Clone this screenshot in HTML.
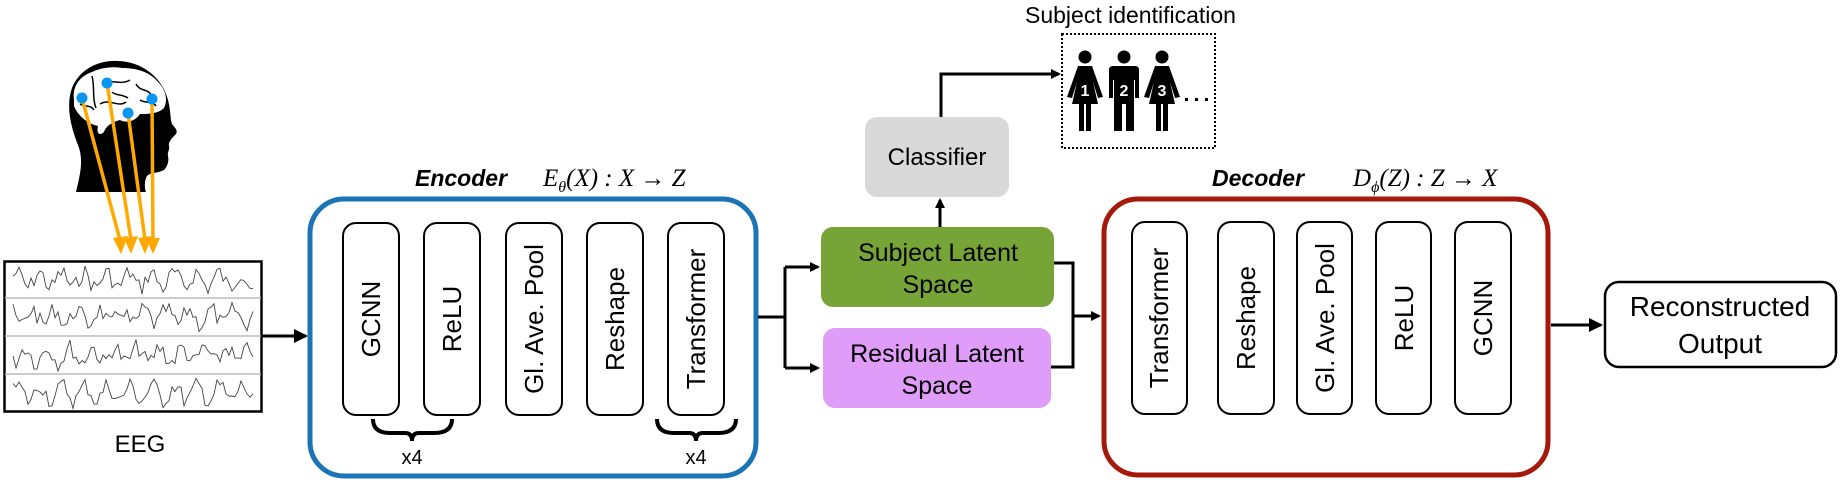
<!DOCTYPE html>
<html><head><meta charset="utf-8"><style>
html,body{margin:0;padding:0;background:#fff;}
svg{display:block;}
text{font-family:"Liberation Sans",Arial,sans-serif;fill:#000;}
.v{font-size:26px;}
.x4{font-size:20px;}
.it{font-family:"Liberation Serif",serif;font-style:italic;font-size:25px;}
</style></head><body>
<svg width="1843" height="494" viewBox="0 0 1843 494" xmlns="http://www.w3.org/2000/svg">
<defs>
<marker id="ah" markerWidth="10" markerHeight="10" refX="8" refY="5" orient="auto" markerUnits="userSpaceOnUse"><path d="M0,0 L10,5 L0,10 z" fill="#000"/></marker>
<marker id="ah2" markerWidth="14" markerHeight="14" refX="12" refY="7" orient="auto" markerUnits="userSpaceOnUse"><path d="M0,0 L14,7 L0,14 z" fill="#000"/></marker>
</defs>

<!-- Head -->
<path d="M76,192 C80,175 84,160 78,145 C70,125 66,105 72,88 C80,68 100,60 118,61 C145,62 163,80 168,100 C171,112 170,118 172,124 C175,128 178,130 176,134 C172,138 168,142 169,146 C170,150 167,152 168,156 C169,160 168,166 164,170 C156,174 148,172 146,178 C144,184 145,190 146,192 Z" fill="#000"/>
<path d="M74,100 C72,86 80,76 92,72 C100,68 112,66 122,68 C136,68 150,72 158,82 C166,90 168,100 164,108 C158,114 148,114 140,114 C136,120 128,124 120,120 C112,122 106,126 104,132 C100,136 96,134 98,126 C88,124 78,116 74,106 Z" fill="#fff"/>
<path d="M92,76 C95,88 92,98 96,108 M102,84 C112,78 120,86 130,80 M136,84 C140,92 148,88 152,96 M100,104 C110,98 118,108 126,102 M112,92 C116,96 122,94 128,98 M80,104 C86,108 90,104 94,110 M140,100 C146,104 152,100 156,106" stroke="#000" stroke-width="1.5" fill="none"/>
<g stroke="#ffa800" stroke-width="3.5">
<line x1="82" y1="98" x2="120" y2="240"/>
<line x1="107" y1="83" x2="131" y2="240"/>
<line x1="128" y1="113" x2="145" y2="240"/>
<line x1="152" y1="99" x2="153" y2="240"/>
</g>
<g fill="#ffa800">
<path d="M113,238 L121,254 L128,236 Z"/><path d="M124,238 L131,254 L138,236 Z"/><path d="M138,238 L145,254 L152,236 Z"/><path d="M146,238 L153,254 L160,238 Z"/>
</g>
<g fill="#0a95f0"><circle cx="82" cy="98" r="5.5"/><circle cx="107" cy="83" r="5.5"/><circle cx="128" cy="113" r="5.5"/><circle cx="152" cy="99" r="5.5"/></g>

<!-- EEG -->
<rect x="4.5" y="261.5" width="257" height="150" fill="#fff" stroke="#000" stroke-width="2.5"/>
<g stroke="#bbb" stroke-width="1.5"><line x1="5" y1="298" x2="261" y2="298"/><line x1="5" y1="336" x2="261" y2="336"/><line x1="5" y1="374" x2="261" y2="374"/></g>
<g id="waves" stroke="#444" stroke-width="0.9" fill="none"></g>
<text x="140" y="452" font-size="24" text-anchor="middle">EEG</text>
<line x1="262" y1="336" x2="306" y2="336" stroke="#000" stroke-width="3" marker-end="url(#ah2)"/>

<!-- Encoder -->
<rect x="310" y="199" width="446" height="277" rx="34" fill="#fff" stroke="#1b74b5" stroke-width="5"/>
<text x="415" y="186" font-size="23" font-weight="bold" font-style="italic">Encoder</text>
<text x="543" y="186" class="it">E<tspan font-size="16" dy="6">θ</tspan><tspan dy="-6">(X) : X → Z</tspan></text>
<g fill="#fff" stroke="#000" stroke-width="2">
<rect x="343" y="223" width="56" height="192" rx="13"/>
<rect x="424" y="223" width="56" height="192" rx="13"/>
<rect x="506" y="223" width="56" height="192" rx="13"/>
<rect x="587" y="223" width="56" height="192" rx="13"/>
<rect x="668" y="223" width="56" height="192" rx="13"/>
</g>
<text transform="translate(380,319) rotate(-90)" text-anchor="middle" class="v">GCNN</text>
<text transform="translate(461,319) rotate(-90)" text-anchor="middle" class="v">ReLU</text>
<text transform="translate(543,319) rotate(-90)" text-anchor="middle" class="v">Gl. Ave. Pool</text>
<text transform="translate(624,319) rotate(-90)" text-anchor="middle" class="v">Reshape</text>
<text transform="translate(705,319) rotate(-90)" text-anchor="middle" class="v">Transformer</text>
<g stroke="#000" stroke-width="4" fill="none">
<path d="M373,419 Q373,433 390,433 L405,433 Q412,433 412,441 Q412,433 419,433 L434,433 Q452,433 452,419"/>
<path d="M657,419 Q657,433 674,433 L689,433 Q696,433 696,441 Q696,433 703,433 L718,433 Q736,433 736,419"/>
<path d="M1119,418 Q1119,432 1136,432 L1151,432 Q1158,432 1158,440 Q1158,432 1165,432 L1180,432 Q1199,432 1199,418"/>
<path d="M1406,418 Q1406,432 1423,432 L1438,432 Q1445,432 1445,440 Q1445,432 1452,432 L1467,432 Q1485,432 1485,418"/>
</g>
<text x="412" y="464" class="x4" text-anchor="middle">x4</text>
<text x="696" y="464" class="x4" text-anchor="middle">x4</text>
<text x="1158" y="463" class="x4" text-anchor="middle">x4</text>
<text x="1445" y="463" class="x4" text-anchor="middle">x4</text>

<!-- branching -->
<g stroke="#000" stroke-width="3" fill="none">
<polyline points="758,317 785,317"/>
<polyline points="785,267 785,368"/>
<line x1="785" y1="267" x2="818" y2="267" marker-end="url(#ah)"/>
<line x1="785" y1="368" x2="818" y2="368" marker-end="url(#ah)"/>
<line x1="940" y1="227" x2="940" y2="200" marker-end="url(#ah)"/>
<polyline points="941,117 941,74 1050,74"/>
<line x1="1040" y1="74" x2="1059" y2="74" marker-end="url(#ah)"/>
<polyline points="1054,263 1073,263 1073,367 1051,367"/>
<line x1="1073" y1="316" x2="1099" y2="316" marker-end="url(#ah)"/>
<line x1="1551" y1="325" x2="1601" y2="325" marker-end="url(#ah2)"/>
</g>

<rect x="821" y="227" width="233" height="80" rx="12" fill="#76a436"/>
<text x="938" y="261" font-size="25" text-anchor="middle">Subject Latent</text>
<text x="938" y="293" font-size="25" text-anchor="middle">Space</text>
<rect x="823" y="328" width="228" height="80" rx="12" fill="#df9cf9"/>
<text x="937" y="362" font-size="25" text-anchor="middle">Residual Latent</text>
<text x="937" y="394" font-size="25" text-anchor="middle">Space</text>
<rect x="865" y="117" width="144" height="80" rx="12" fill="#d9d9d9"/>
<text x="937" y="165" font-size="24" text-anchor="middle">Classifier</text>

<!-- Subject identification -->
<text x="1025" y="23" font-size="23">Subject identification</text>
<rect x="1062" y="34" width="153" height="114" fill="none" stroke="#000" stroke-width="2" stroke-dasharray="2,2"/>
<g fill="#000">
<circle cx="1085" cy="57" r="6.5"/>
<path d="M1078,66 L1092,66 L1103,97 L1098,98 L1093,82 L1098,104 L1091,104 L1091,131 L1086,131 L1086,104 L1084,104 L1084,131 L1079,131 L1079,104 L1072,104 L1077,82 L1072,98 L1067,97 Z"/>
<circle cx="1124" cy="57" r="6.5"/>
<path d="M1113,66 L1135,66 Q1139,66 1139,70 L1139,98 L1135,98 L1135,80 L1134,80 L1134,131 L1126,131 L1126,104 L1122,104 L1122,131 L1114,131 L1114,80 L1113,80 L1113,98 L1109,98 L1109,70 Q1109,66 1113,66 Z"/>
<circle cx="1162" cy="57" r="6.5"/>
<path d="M1155,66 L1169,66 L1180,97 L1175,98 L1170,82 L1175,104 L1168,104 L1168,131 L1163,131 L1163,104 L1161,104 L1161,131 L1156,131 L1156,104 L1149,104 L1154,82 L1149,98 L1144,97 Z"/>
</g>
<g font-size="16" font-weight="bold" text-anchor="middle">
<text x="1085" y="96" style="fill:#fff">1</text><text x="1124" y="96" style="fill:#fff">2</text><text x="1162" y="96" style="fill:#fff">3</text>
</g>
<g fill="#000"><rect x="1185" y="98" width="3" height="3"/><rect x="1195" y="98" width="3" height="3"/><rect x="1205" y="98" width="3" height="3"/></g>

<!-- Decoder -->
<rect x="1104" y="199" width="444" height="276" rx="34" fill="#fff" stroke="#a5190b" stroke-width="5"/>
<text x="1212" y="186" font-size="23" font-weight="bold" font-style="italic">Decoder</text>
<text x="1353" y="186" class="it">D<tspan font-size="16" dy="6">ϕ</tspan><tspan dy="-6">(Z) : Z → X</tspan></text>
<g fill="#fff" stroke="#000" stroke-width="2">
<rect x="1132" y="222" width="55" height="192" rx="13"/>
<rect x="1218" y="222" width="56" height="192" rx="13"/>
<rect x="1297" y="222" width="55" height="192" rx="13"/>
<rect x="1376" y="222" width="55" height="192" rx="13"/>
<rect x="1455" y="222" width="56" height="192" rx="13"/>
</g>
<text transform="translate(1168,318) rotate(-90)" text-anchor="middle" class="v">Transformer</text>
<text transform="translate(1255,318) rotate(-90)" text-anchor="middle" class="v">Reshape</text>
<text transform="translate(1334,318) rotate(-90)" text-anchor="middle" class="v">Gl. Ave. Pool</text>
<text transform="translate(1413,318) rotate(-90)" text-anchor="middle" class="v">ReLU</text>
<text transform="translate(1492,318) rotate(-90)" text-anchor="middle" class="v">GCNN</text>

<rect x="1605" y="282" width="231" height="85" rx="14" fill="#fff" stroke="#000" stroke-width="2.5"/>
<text x="1720" y="316" font-size="28" text-anchor="middle">Reconstructed</text>
<text x="1720" y="353" font-size="28" text-anchor="middle">Output</text>
</svg>
<script>
(function(){
var g=document.getElementById('waves');var seed=7;
function r(){seed=(seed*9301+49297)%233280;return seed/233280;}
var mids=[280,317,355,393];
for(var k=0;k<4;k++){var d='';var y=mids[k];
for(var x=13;x<=253;x+=3){var v=(r()-0.5)*20+Math.sin(x*0.28+k*2)*9;d+=(d?'L':'M')+x.toFixed(1)+','+(y+v*0.85).toFixed(1);}
var p=document.createElementNS('http://www.w3.org/2000/svg','path');p.setAttribute('d',d);g.appendChild(p);}
})();
</script>
</body></html>
